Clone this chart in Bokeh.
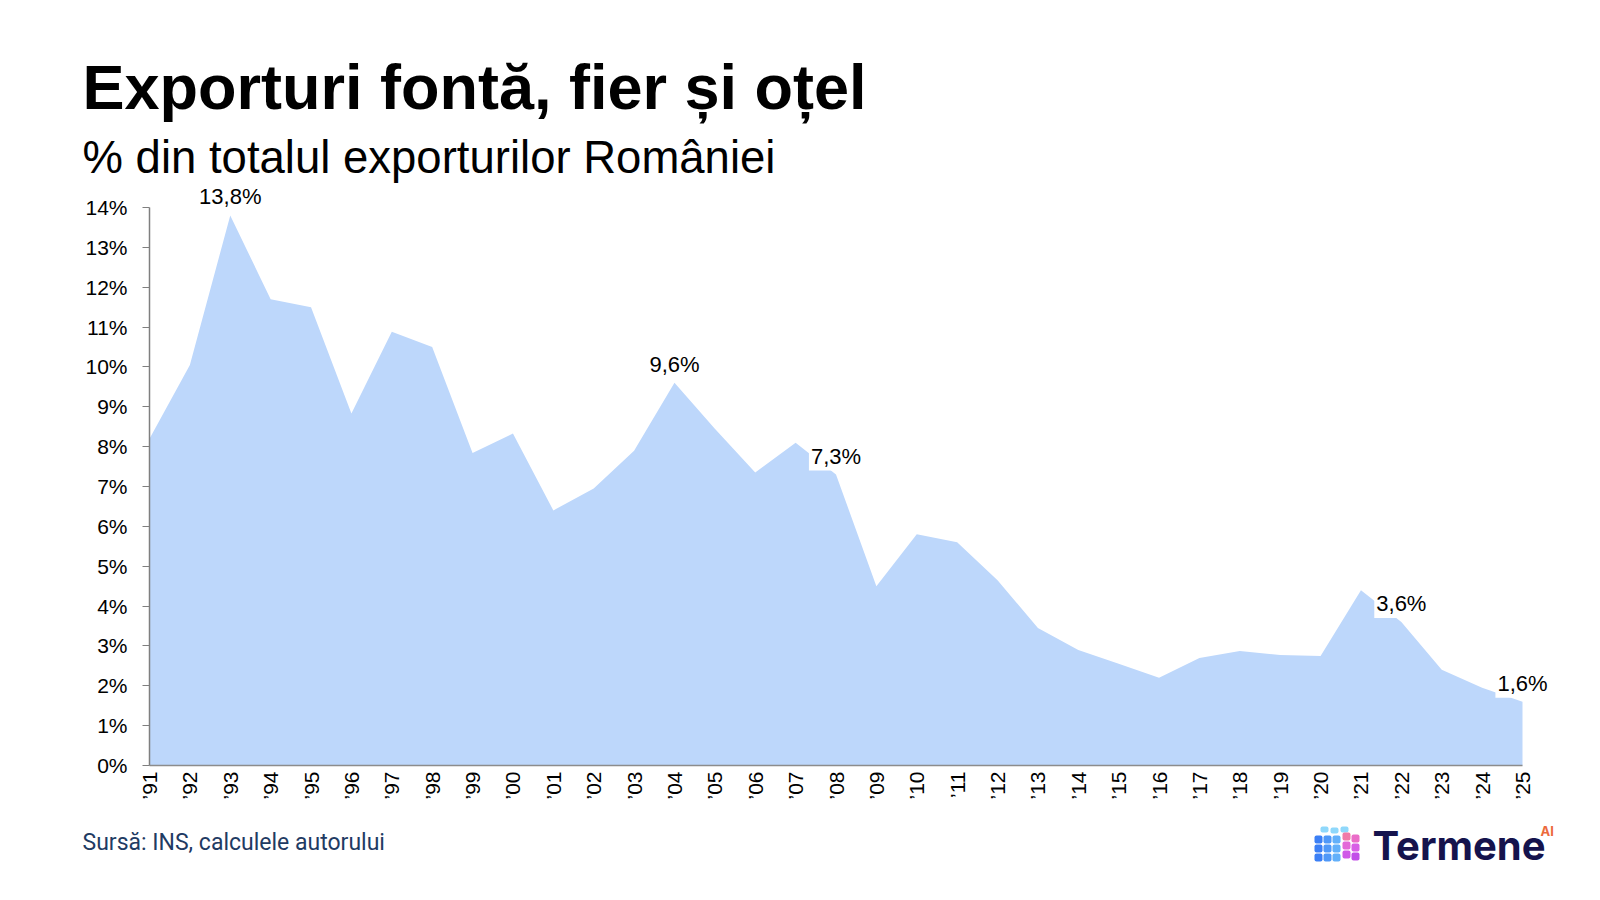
import math
from bokeh.plotting import figure
from bokeh.models import Label, Range1d, FixedTicker
from bokeh.core.properties import value
from bokeh.embed import file_html
from bokeh.resources import INLINE

# ---------------- data ----------------
years = ["’91", "’92", "’93", "’94", "’95", "’96", "’97", "’98", "’99", "’00",
         "’01", "’02", "’03", "’04", "’05", "’06", "’07", "’08", "’09", "’10",
         "’11", "’12", "’13", "’14", "’15", "’16", "’17", "’18", "’19", "’20",
         "’21", "’22", "’23", "’24", "’25"]
share = [8.2, 10.05, 13.8, 11.7, 11.5, 8.83, 10.88, 10.5, 7.84, 8.33,
         6.4, 6.95, 7.9, 9.6, 8.45, 7.35, 8.1, 7.3, 4.5, 5.8,
         5.6, 4.65, 3.45, 2.9, 2.55, 2.2, 2.7, 2.87, 2.77, 2.75,
         4.4, 3.6, 2.4, 1.95, 1.6]
labeled_years = ["’93", "’04", "’08", "’22", "’25"]
y_ticks = list(range(0, 15))
y_tick_labels = [f"{t}%" for t in y_ticks]

title_text = "Exporturi fontă, fier și oțel"
subtitle_text = "% din totalul exporturilor României"
source_text = "Sursă: INS, calculele autorului"
logo_text = "Termene"
logo_sup = "AI"

# ---------------- layout (page pixels) ----------------
W, H = 1600, 896
X0_PX, X34_PX = 149, 1522   # x of first / last category
Y0_PX, Y14_PX = 765, 207    # y of 0% / 14%

n = len(years)
ppx = (X34_PX - X0_PX) / (n - 1)
ppy = (Y0_PX - Y14_PX) / 14.0


def fx(px):   # page x -> data x
    return (px - X0_PX) / ppx


def fy(py):   # page y -> data y
    return (Y0_PX - py) / ppy


p = figure(width=W, height=H, output_backend="svg", toolbar_location=None,
           x_range=Range1d(fx(0), fx(W)), y_range=Range1d(fy(H), fy(0)),
           min_border=0)
p.outline_line_color = None
p.xgrid.visible = False
p.ygrid.visible = False
p.background_fill_color = "white"
p.border_fill_color = "white"

xs = list(range(n))
p.varea(x=xs, y1=[0] * n, y2=share, fill_color="#bdd7fb", fill_alpha=1.0)

# x axis (fixed at 0 %)
xa = p.xaxis[0]
xa.fixed_location = 0
xa.bounds = (0, n - 1)
xa.ticker = FixedTicker(ticks=xs)
xa.major_label_overrides = {i: years[i] for i in xs}
xa.major_label_orientation = math.pi / 2
xa.major_tick_out = 0
xa.major_tick_in = 0
xa.minor_tick_out = 0
xa.minor_tick_in = 0
xa.axis_line_color = "#8c8c8c"
xa.axis_line_width = 1.5
xa.major_label_text_font = "Liberation Sans"
xa.major_label_text_font_size = "21px"
xa.major_label_text_color = "#000000"
xa.major_label_standoff = 6

# y axis (fixed at first category)
ya = p.yaxis[0]
ya.fixed_location = 0
ya.bounds = (0, 14)
ya.ticker = FixedTicker(ticks=y_ticks)
ya.major_label_overrides = {t: l for t, l in zip(y_ticks, y_tick_labels)}
ya.major_tick_out = 7
ya.major_tick_in = 0
ya.minor_tick_out = 0
ya.minor_tick_in = 0
ya.axis_line_color = "#7f7f7f"
ya.axis_line_width = 1.5
ya.major_tick_line_color = "#7f7f7f"
ya.major_tick_line_width = 1.2
ya.major_label_text_font = "Liberation Sans"
ya.major_label_text_font_size = "21px"
ya.major_label_text_color = "#000000"
ya.major_label_standoff = 15

# value labels
for yl in labeled_years:
    i = years.index(yl)
    v = share[i]
    p.add_layout(Label(x=i, y=v, text=f"{v:.1f}".replace(".", ",") + "%",
                       text_align="center", text_baseline="bottom",
                       y_offset=4, text_font="Liberation Sans",
                       text_font_size="22px", text_color="#000000",
                       background_fill_color="white", background_fill_alpha=1.0,
                       padding=2))

# header
p.text(x=[fx(82)], y=[fy(86.5)], text=[title_text], text_align="left",
       text_baseline="alphabetic", text_font=value("Liberation Sans"),
       text_font_style="bold", text_font_size="63px", text_color="#000000")
p.text(x=[fx(82)], y=[fy(157)], text=[subtitle_text], text_align="left",
       text_baseline="alphabetic", text_font=value("Liberation Sans"),
       text_font_size="45.5px", text_color="#000000")

# footer
p.text(x=[fx(82)], y=[fy(841.5)], text=[source_text], text_align="left",
       text_baseline="alphabetic", text_font=value("Roboto"),
       text_font_size="23px", text_color="#1f3b63")
p.text(x=[fx(1372)], y=[fy(845)], text=[logo_text], text_align="left",
       text_baseline="alphabetic", text_font=value("Inter"),
       text_font_style="bold", text_font_size="40px", text_color="#15134d")
p.text(x=[fx(1540)], y=[fy(830)], text=[logo_sup], text_align="left",
       text_baseline="alphabetic", text_font=value("Inter"),
       text_font_style="bold", text_font_size="13px", text_color="#ec6a3c")

# logo cube icon (decoration)
sq_l, sq_r, sq_t, sq_b, sq_c = [], [], [], [], []


def sq(x, y, w, h, c):
    sq_l.append(fx(x)); sq_r.append(fx(x + w))
    sq_t.append(fy(y)); sq_b.append(fy(y + h)); sq_c.append(c)


for k, cx in enumerate([1320, 1330, 1340]):
    sq(cx, 826 + (k % 2), 8, 6, "#8fd8fb")
left_cols = ["#3b7ff5", "#4f98f8", "#63b0fa"]
for c in range(3):
    for r in range(3):
        sq(1314 + c * 9, 835 + r * 9, 8, 8, left_cols[c])
right_cols = [["#f07aa8", "#ea6cc8"], ["#e36ad8", "#d85fe6"], ["#cf5ae8", "#c24fe8"]]
for c in range(2):
    for r in range(3):
        sq(1342 + c * 9, 832 + r * 9 + c * 2, 8, 8, right_cols[r][c])
p.quad(left=sq_l, right=sq_r, top=sq_t, bottom=sq_b, fill_color=sq_c,
       line_color=None, border_radius=2)

open("out.html", "w").write(file_html(p, INLINE))
